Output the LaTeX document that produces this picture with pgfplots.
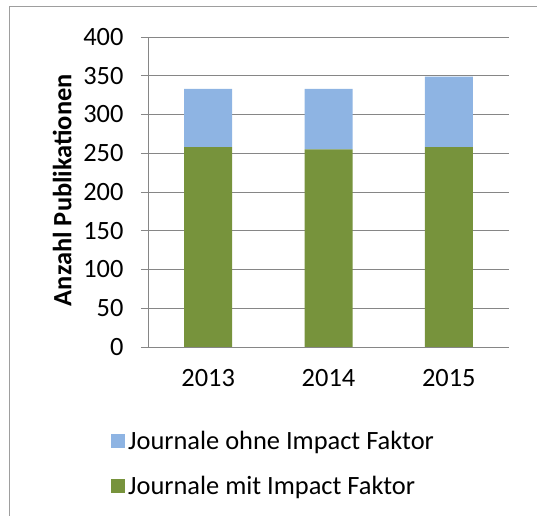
\documentclass[border=0pt]{standalone}
\usepackage{fontspec}
\setmainfont{Carlito}
\usepackage{pgfplots}
\pgfplotsset{compat=1.18}
\definecolor{bblue}{HTML}{8EB4E3}
\definecolor{bgreen}{HTML}{77933C}
\definecolor{gline}{HTML}{868686}
\begin{document}
\begin{tikzpicture}
\useasboundingbox (0,0) rectangle (537bp,516bp);
\draw[gline!80, line width=1bp] (9bp,0) -- (9bp,509bp) -- (537bp,509bp);
\begin{axis}[
  at={(148bp,169bp)}, anchor=south west,
  scale only axis, width=361bp, height=310bp,
  ybar stacked, bar width=48bp,
  xmin=-0.5, xmax=2.5, ymin=0, ymax=400,
  ytick={0,50,...,400},
  xtick={0,1,2}, xticklabels={2013,2014,2015},
  minor xtick={-0.5,0.5,1.5,2.5},
  axis x line*=bottom, axis y line*=left,
  axis line style={gline, line width=1bp, -},
  ymajorgrids, grid style={gline, line width=1bp},
  tick align=outside,
  major tick length=7bp, minor tick length=6bp,
  xtick style={draw=none},
  minor x tick style={gline, line width=1bp},
  y tick style={gline, line width=1bp},
  /pgf/number format/assume math mode=true,
  ticklabel style={font=\fontsize{26.5}{30}\selectfont},
  yticklabel style={xshift=-14bp},
  xticklabel style={yshift=-12bp},
  ylabel={\textbf{Anzahl Publikationen}},
  ylabel style={at={(axis description cs:-0.238,0.506)}, anchor=center, font=\fontsize{26.5}{30}\selectfont},
  legend image code/.code={\fill[#1] (0bp,-7bp) rectangle (14bp,7bp);},
  reverse legend,
  legend cell align=left,
  legend style={at={(axis description cs:-0.1025,-0.2615)}, anchor=north west,
    draw=none, fill=none, inner sep=0pt, font=\fontsize{26.5}{30}\selectfont,
    row sep=19bp,
    nodes={inner sep=3bp}},
]
\addplot[fill=bgreen, draw=none] coordinates {(0,258) (1,255) (2,258)};
\addplot[fill=bblue, draw=none] coordinates {(0,75) (1,78) (2,91)};
\legend{Journale mit Impact Faktor, Journale ohne Impact Faktor}
\end{axis}
\end{tikzpicture}
\end{document}
